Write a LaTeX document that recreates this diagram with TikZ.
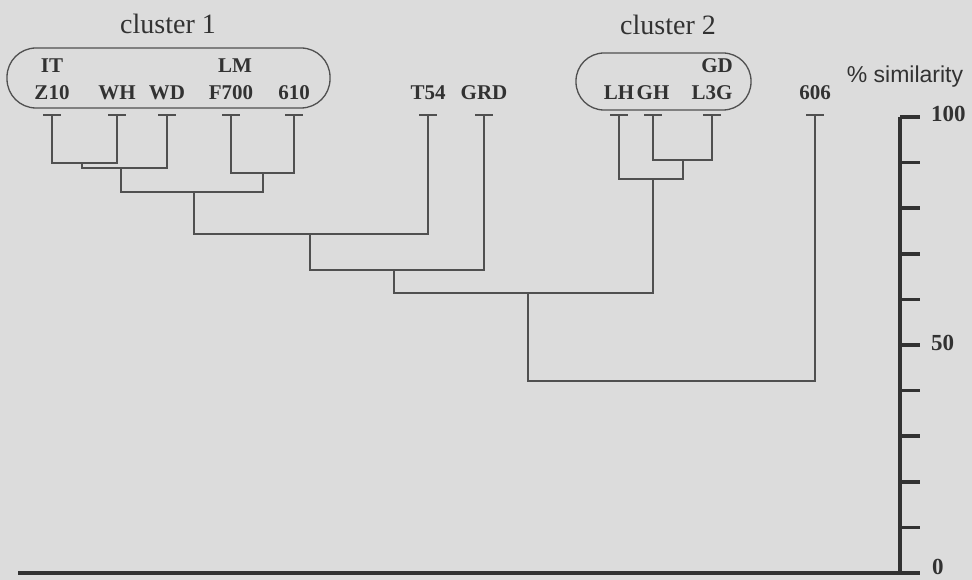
\documentclass[tikz,border=0pt]{standalone}
\usepackage{fontspec}
\setmainfont{Liberation Serif}
\setsansfont{Liberation Sans}
\usetikzlibrary{positioning}
\definecolor{paper}{RGB}{220,220,220}
\definecolor{ink}{RGB}{50,50,50}
\definecolor{linegray}{RGB}{80,80,80}

\begin{document}
\begin{tikzpicture}[x=1pt,y=-1pt, every node/.style={text=ink,inner sep=0pt},
    leaf/.style={font=\fontsize{21}{21}\selectfont\bfseries},
    title/.style={font=\fontsize{28}{28}\selectfont},
    grp/.style={draw=linegray,line width=1.3pt,rounded corners=29pt},
    link/.style={draw=linegray,line width=1.3pt},
    scale line/.style={draw=ink,line width=3.5pt},
    axlabel/.style={font=\fontsize{23}{23}\selectfont\bfseries,anchor=west}]
  \fill[paper] (0,0) rectangle (972,580);

  % leaves with their caps
  \foreach \n/\x/\t in {z10/52/Z10, wh/117/WH, wd/167/WD, f700/231/F700, n610/294/610,
      t54/428/T54, grd/484/GRD, lh/619/LH, gh/653/GH, l3g/712/L3G, n606/815/606} {
    \node[leaf] (\n) at (\x,93) {\t};
    \coordinate (t\n) at (\x,115);
    \draw[link] ([xshift=-9pt]t\n) -- ([xshift=9pt]t\n);
  }
  \node[leaf,above=13pt of z10] (it) {IT};
  \node[leaf,above=13pt of f700,xshift=4pt] (lm) {LM};
  \node[leaf,above=13pt of l3g,xshift=5pt] (gd) {GD};

  % clusters
  \node[grp,minimum width=323pt,minimum height=60pt] (c1) at (168.5,78) {};
  \node[grp,minimum width=175pt,minimum height=57pt,rounded corners=28pt] (c2) at (663.5,81.5) {};
  \node[title] (c1t) at (168,24) {cluster 1};
  \node[title] (c2t) at (668,25) {cluster 2};

  % tree
  \coordinate (m1) at (82,163);  \coordinate (m2) at (121,168);
  \coordinate (m3) at (263,173); \coordinate (m4) at (194,192);
  \coordinate (m5) at (310,234); \coordinate (m6) at (394,270);
  \coordinate (m7) at (683,160); \coordinate (m8) at (653,179);
  \coordinate (m9) at (528,293); \coordinate (m10) at (670,381);
  \draw[link] (tz10) |- (m1) -| (twh);
  \draw[link] (m1) |- (m2) -| (twd);
  \draw[link] (tf700) |- (m3) -| (tn610);
  \draw[link] (m2) |- (m4) -| (m3);
  \draw[link] (m4) |- (m5) -| (tt54);
  \draw[link] (m5) |- (m6) -| (tgrd);
  \draw[link] (tgh) |- (m7) -| (tl3g);
  \draw[link] (tlh) |- (m8) -| (m7);
  \draw[link] (m6) |- (m9) -| (m8);
  \draw[link] (m9) |- (m10) -| (tn606);

  % similarity scale
  \coordinate (ax100) at (900,117); \coordinate (ax0) at (900,573);
  \coordinate (base) at (18,573);
  \draw[scale line] (ax100) -- (ax0);
  \foreach \i in {0,...,10} \draw[scale line] (900,{573-45.6*\i}) -- ++(20,0);
  \draw[scale line] (base) -- (ax0);
  \node[font=\sffamily\fontsize{23}{23}\selectfont] (sim) at (905,77) {\% similarity};
  \node[axlabel] (l100) at (931,114) {100};
  \node[axlabel] (l50) at (931,343) {50};
  \node[axlabel] (l0) at (932,567) {0};
\end{tikzpicture}
\end{document}
